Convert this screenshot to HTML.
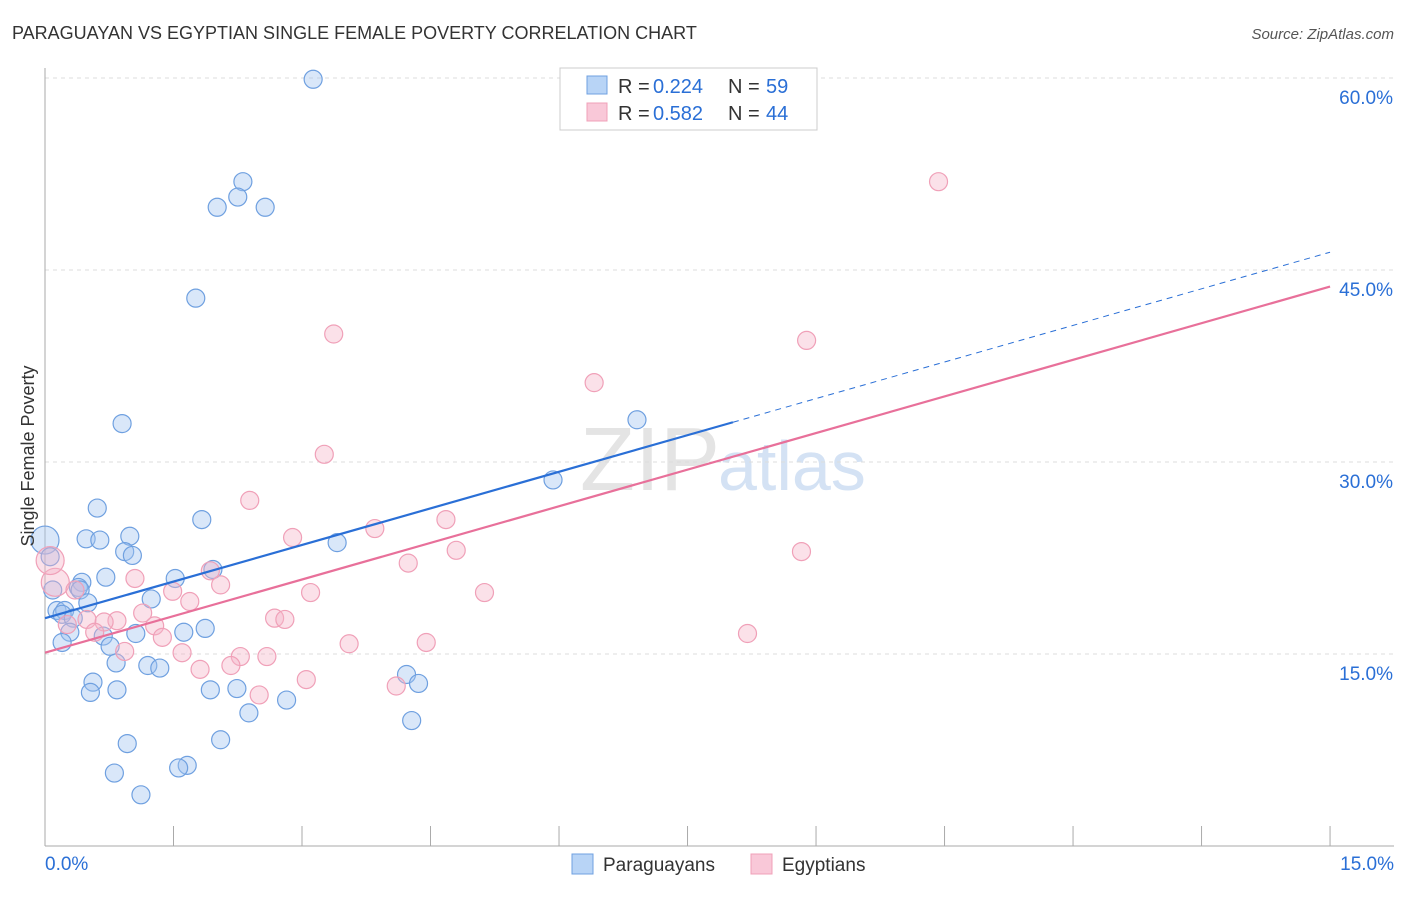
<!DOCTYPE html>
<html><head><meta charset="utf-8"><style>
body{margin:0;background:#fff;font-family:"Liberation Sans",sans-serif;}
svg text{font-family:"Liberation Sans",sans-serif;}
</style></head><body>
<svg id="chart" width="1406" height="892" xmlns="http://www.w3.org/2000/svg">
<text x="12" y="39" font-size="18" fill="#333">PARAGUAYAN VS EGYPTIAN SINGLE FEMALE POVERTY CORRELATION CHART</text>
<text x="1394" y="39" font-size="15" fill="#555" text-anchor="end" font-style="italic">Source: ZipAtlas.com</text>
<text x="720" y="490" font-size="90" fill="#e4e4e4" text-anchor="end" font-family="Liberation Serif">ZIP</text>
<text x="718" y="490" font-size="70" fill="#d4e2f4">atlas</text>
<g id="grid"></g>
<g id="axes"></g>
<g id="marks"></g>
<text transform="translate(34,456) rotate(-90)" font-size="18" fill="#333" text-anchor="middle">Single Female Poverty</text>
<g>
<rect x="560" y="68" width="257" height="62" fill="#fff" stroke="#ccc"/>
<rect x="587" y="76" width="20" height="18" fill="#b8d4f6" stroke="#6fa0e0"/>
<rect x="587" y="103" width="20" height="18" fill="#f9c8d8" stroke="#f0a0b8"/>
<text x="618" y="93" font-size="20" fill="#333">R =</text>
<text x="653" y="93" font-size="20" fill="#2a6fd6">0.224</text>
<text x="728" y="93" font-size="20" fill="#333">N =</text>
<text x="766" y="93" font-size="20" fill="#2a6fd6">59</text>
<text x="618" y="120" font-size="20" fill="#333">R =</text>
<text x="653" y="120" font-size="20" fill="#2a6fd6">0.582</text>
<text x="728" y="120" font-size="20" fill="#333">N =</text>
<text x="766" y="120" font-size="20" fill="#2a6fd6">44</text>
</g>
<g>
<rect x="572" y="854" width="21" height="20" fill="#b8d4f6" stroke="#6fa0e0"/>
<text x="603" y="871" font-size="19" fill="#333">Paraguayans</text>
<rect x="751" y="854" width="21" height="20" fill="#f9c8d8" stroke="#f0a0b8"/>
<text x="782" y="871" font-size="19" fill="#333">Egyptians</text>
</g>
</svg>
<script>
const yTicks=[15,30,45,60];
const yTickLabels=["15.0%","30.0%","45.0%","60.0%"];
const xTickLabels=["0.0%","15.0%"];
const blueX=[3.13,2.31,2.25,2.01,2.57,1.76,0.90,6.91,5.93,0.61,1.83,0.99,0.48,0.64,3.41,0.00,0.93,1.02,0.06,1.96,1.52,0.71,0.43,0.39,0.41,0.09,1.24,0.50,0.14,0.23,0.20,0.33,0.29,0.68,1.06,1.62,1.87,0.20,0.76,0.83,1.20,1.34,0.56,4.22,4.36,0.53,0.84,1.93,2.24,2.82,2.38,4.28,0.96,2.05,0.81,1.66,1.56,1.12];
const blueY=[59.9,51.9,50.7,49.9,49.9,42.8,33.0,33.3,28.6,26.4,25.5,24.2,24.0,23.9,23.7,23.9,23.0,22.7,22.6,21.6,20.9,21.0,20.6,20.2,20.0,20.0,19.3,19.0,18.4,18.4,18.1,17.8,16.7,16.4,16.6,16.7,17.0,15.9,15.6,14.3,14.1,13.9,12.8,13.4,12.7,12.0,12.2,12.2,12.3,11.4,10.4,9.8,8.0,8.3,5.7,6.3,6.1,4.0];
const pinkX=[10.43,3.37,8.89,6.41,3.26,2.39,4.68,3.85,2.89,4.80,8.83,4.24,1.93,1.05,2.05,0.12,0.35,5.13,3.10,1.49,1.69,1.14,0.49,0.84,0.69,2.68,2.80,1.28,0.26,0.58,1.37,8.20,3.55,4.45,1.60,0.93,2.28,2.59,2.17,1.81,3.05,4.10,2.50,0.06];
const pinkY=[51.9,40.0,39.5,36.2,30.6,27.0,25.5,24.8,24.1,23.1,23.0,22.1,21.5,20.9,20.4,20.6,20.0,19.8,19.8,19.9,19.1,18.2,17.7,17.6,17.5,17.8,17.7,17.2,17.3,16.7,16.3,16.6,15.8,15.9,15.1,15.2,14.8,14.8,14.1,13.8,13.0,12.5,11.8,22.3];
const blueBig=[15];
const pinkBig=[15,43];
const blueLine=[17.8,1.906]; // intercept, slope
const blueSolidEnd=8.03;
const pinkLine=[15.1,1.907];
const X=v=>45+v*85.67, Y=v=>846-v*12.8;
const NS="http://www.w3.org/2000/svg";
function mk(t,a,p){const e=document.createElementNS(NS,t);for(const k in a)e.setAttribute(k,a[k]);p.appendChild(e);return e;}
const grid=document.getElementById('grid'),axes=document.getElementById('axes'),marks=document.getElementById('marks');
yTicks.forEach((t,i)=>{
 const g=mk('line',{x1:45,x2:1394,y1:Y(t),y2:Y(t),stroke:'#ddd','stroke-dasharray':'4,4'},grid);
 
 
 const l=mk('text',{x:1393,y:Y(t)+26,'font-size':19,fill:'#2a6fd6','text-anchor':'end'},axes);
 l.textContent=yTickLabels[i];
 
 
});
const ax=mk('line',{x1:45,x2:45,y1:68,y2:846,stroke:'#aaa'},axes);


const bx=mk('line',{x1:45,x2:1394,y1:846,y2:846,stroke:'#aaa'},axes);


for(let i=0;i<=10;i++){const t=mk('line',{x1:X(i*1.5),x2:X(i*1.5),y1:826,y2:846,stroke:'#aaa'},axes);
 
 }
[[0,'start',45],[15,'end',1394]].forEach((d,i)=>{const l=mk('text',{x:d[2],y:870,'font-size':19,fill:'#2a6fd6','text-anchor':d[1]},axes);l.textContent=xTickLabels[i];
 
 });
function dots(xs,ys,big,fill,stroke,name){xs.forEach((x,i)=>{const c=mk('circle',{cx:X(x),cy:Y(ys[i]),r:big.includes(i)?14:9,fill:fill,stroke:stroke,'stroke-width':1.2},marks);
 
 });}
dots(blueX,blueY,blueBig,'rgba(160,196,240,0.4)','#6fa0e0','paraguayan-point');
dots(pinkX,pinkY,pinkBig,'rgba(245,180,200,0.4)','#f0a0b8','egyptian-point');
const f=(l,x)=>l[0]+l[1]*x;
const b1=mk('line',{x1:X(0),y1:Y(f(blueLine,0)),x2:X(blueSolidEnd),y2:Y(f(blueLine,blueSolidEnd)),stroke:'#2a6fd6','stroke-width':2.2},marks);


const b2=mk('line',{x1:X(blueSolidEnd),y1:Y(f(blueLine,blueSolidEnd)),x2:X(15),y2:Y(f(blueLine,15)),stroke:'#2a6fd6','stroke-width':1,'stroke-dasharray':'6,5'},marks);


const p1=mk('line',{x1:X(0),y1:Y(f(pinkLine,0)),x2:X(15),y2:Y(f(pinkLine,15)),stroke:'#e8709a','stroke-width':2.2},marks);


</script>
</body></html>
